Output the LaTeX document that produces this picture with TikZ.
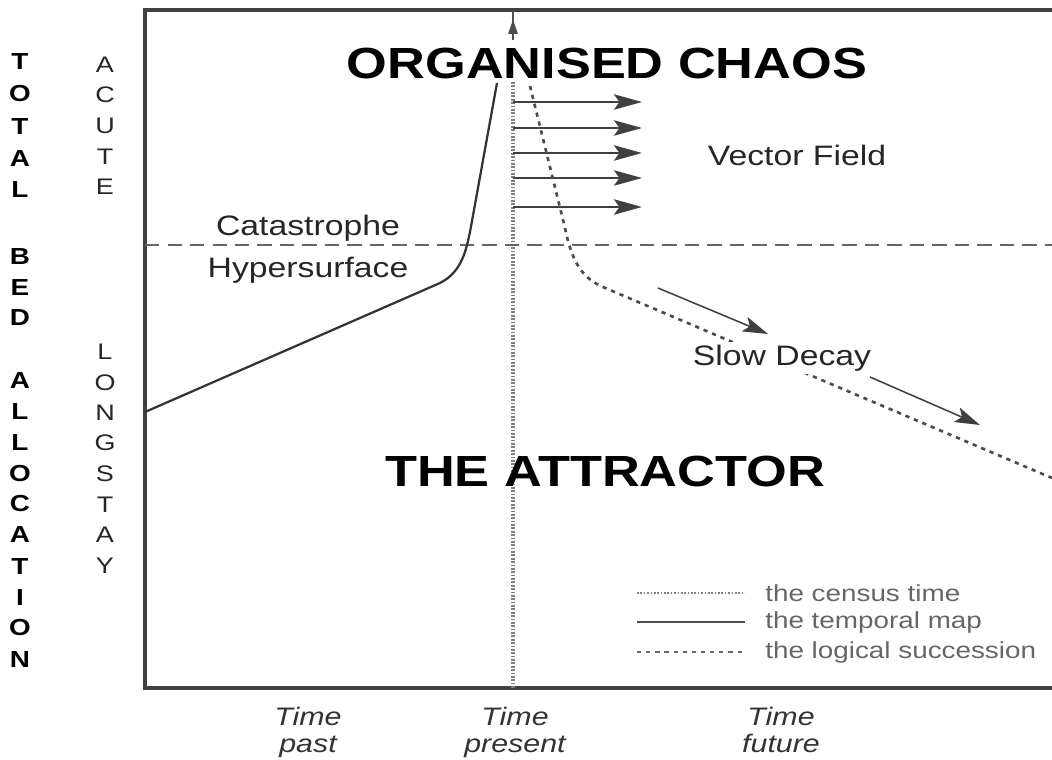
\documentclass[tikz,border=0pt]{standalone}
\usepackage{fontspec}
\setmainfont{Liberation Sans}
\usetikzlibrary{arrows.meta}
\newcommand{\sx}[1]{\scalebox{1.2}[1]{#1}}
\tikzset{
  frameline/.style={line width=2.2pt, draw=black!75},
  census/.style={line width=2.2pt, draw=black!50, dash pattern=on 1.2pt off 1.2pt},
  temporal/.style={line width=1.6pt, draw=black!80},
  logical/.style={line width=1.9pt, draw=black!70, dash pattern=on 3pt off 3.5pt},
  catline/.style={line width=1.5pt, draw=black!60, dash pattern=on 10pt off 6pt},
  vecarrow/.style={line width=1.1pt, draw=black!75, -{Stealth[length=20pt,width=11pt,inset=4pt]}},
  decayarrow/.style={line width=1.1pt, draw=black!75, -{Stealth[length=18pt,width=11pt,inset=4pt]}},
  bigtitle/.style={font=\fontsize{31}{36}\selectfont\bfseries, inner sep=0pt},
  label/.style={font=\fontsize{20}{24}\selectfont, text=black!85, inner sep=0pt},
  legtext/.style={font=\fontsize{16.5}{20}\selectfont, text=black!60, inner sep=0pt, anchor=west},
  timetext/.style={font=\fontsize{18}{21}\selectfont\itshape, text=black!80, inner sep=0pt, anchor=base},
  axisletter/.style={font=\fontsize{16.5}{18}\selectfont\bfseries, inner sep=0pt},
  sideletter/.style={font=\fontsize{16}{18}\selectfont, text=black!85, inner sep=0pt}
}
\begin{document}
\begin{tikzpicture}[x=0.025cm,y=-0.025cm]
\useasboundingbox (0,0) rectangle (1052,760);
% frame
\coordinate (tl) at (145,10);
\coordinate (tr) at (1052,10);
\coordinate (bl) at (145,688);
\coordinate (br) at (1052,688);
\draw[frameline] (tr) -- (tl) -- (bl) -- (br);
% census time
\coordinate (cTop) at (513,10);
\coordinate (cTick) at (513,40);
\coordinate (cA) at (513,82);
\coordinate (cB) at (513,688);
\draw[line width=1.3pt, draw=black!70] (cTick) -- (cTop);
\fill[black!70] (513,20) -- (508,34) -- (518,34) -- cycle;
\draw[census] (cA) -- (cB);
% catastrophe hypersurface
\coordinate (hA) at (145,245);
\coordinate (hB) at (1052,245);
\draw[catline] (hA) -- (hB);
% temporal map
\coordinate (tA) at (145,412);
\coordinate (tB) at (440,283);
\coordinate (tC) at (497,83);
\draw[temporal] (tA) -- (tB) .. controls (462,272) and (466,250) .. (470,232) -- (tC);
% logical succession
\coordinate (lA) at (530,86);
\coordinate (lB) at (565,228);
\coordinate (lC) at (603,287);
\coordinate (lD) at (1052,478);
\draw[logical] (lA) -- (lB) .. controls (572,262) and (582,278) .. (lC) -- (lD);
% vector field arrows
\foreach \y [count=\i] in {102,128,153,178,207}{
  \coordinate (vs\i) at (513,\y);
  \coordinate (ve\i) at (642,\y);
  \draw[vecarrow] (vs\i) -- (ve\i);
}
% slow decay arrows
\coordinate (d1s) at (658,288);
\coordinate (d1e) at (768,334);
\coordinate (d2s) at (870,377);
\coordinate (d2e) at (980,425);
\draw[decayarrow] (d1s) -- (d1e);
\draw[decayarrow] (d2s) -- (d2e);
% texts
\node[bigtitle] (chaos) at (607,63) {\sx{ORGANISED CHAOS}};
\node[bigtitle] (attr) at (605,471) {\sx{THE ATTRACTOR}};
\node[label] (vf) at (797,155) {\sx{Vector Field}};
\node[label] (cat) at (308,228) {\sx{Catastrophe}};
\node[label] (hyp) at (308,270) {\sx{Hypersurface}};
\node[label, fill=white, inner sep=2pt] (sd) at (782,358) {\sx{Slow Decay}};
% legend
\coordinate (g1a) at (637,593); \coordinate (g1b) at (745,593);
\coordinate (g2a) at (637,622); \coordinate (g2b) at (745,622);
\coordinate (g3a) at (637,652); \coordinate (g3b) at (745,652);
\draw[census, line width=1.5pt] (g1a) -- (g1b);
\draw[temporal, draw=black!70] (g2a) -- (g2b);
\draw[logical, line width=1.4pt, draw=black!60] (g3a) -- (g3b);
\node[legtext] (l1) at (765,593) {\sx{the census time}};
\node[legtext] (l2) at (765,622) {\sx{the temporal map}};
\node[legtext] (l3) at (765,652) {\sx{the logical succession}};
% time labels
\node[timetext] (tp1) at (308,725) {\sx{Time}};
\node[timetext] (tp2) at (308,752) {\sx{past}};
\node[timetext] (tn1) at (515,725) {\sx{Time}};
\node[timetext] (tn2) at (515,752) {\sx{present}};
\node[timetext] (tf1) at (781,725) {\sx{Time}};
\node[timetext] (tf2) at (781,752) {\sx{future}};
% vertical axis letters
\foreach \ch/\y [count=\i] in {T/62,O/94,T/127,A/159,L/190,B/257,E/288,D/318,A/381,L/412,L/443,O/474,C/504,A/535,T/567,I/598,O/628,N/660}{
  \node[axisletter] (ax\i) at (20,\y) {\sx{\ch}};
}
\foreach \ch/\y [count=\i] in {A/65,C/95,U/126,T/157,E/187}{
  \node[sideletter] (ac\i) at (105,\y) {\sx{\ch}};
}
\foreach \ch/\y [count=\i] in {L/352,O/383,N/413,G/443,S/474,T/505,A/535,Y/566}{
  \node[sideletter] (ls\i) at (105,\y) {\sx{\ch}};
}
\end{tikzpicture}
\end{document}
